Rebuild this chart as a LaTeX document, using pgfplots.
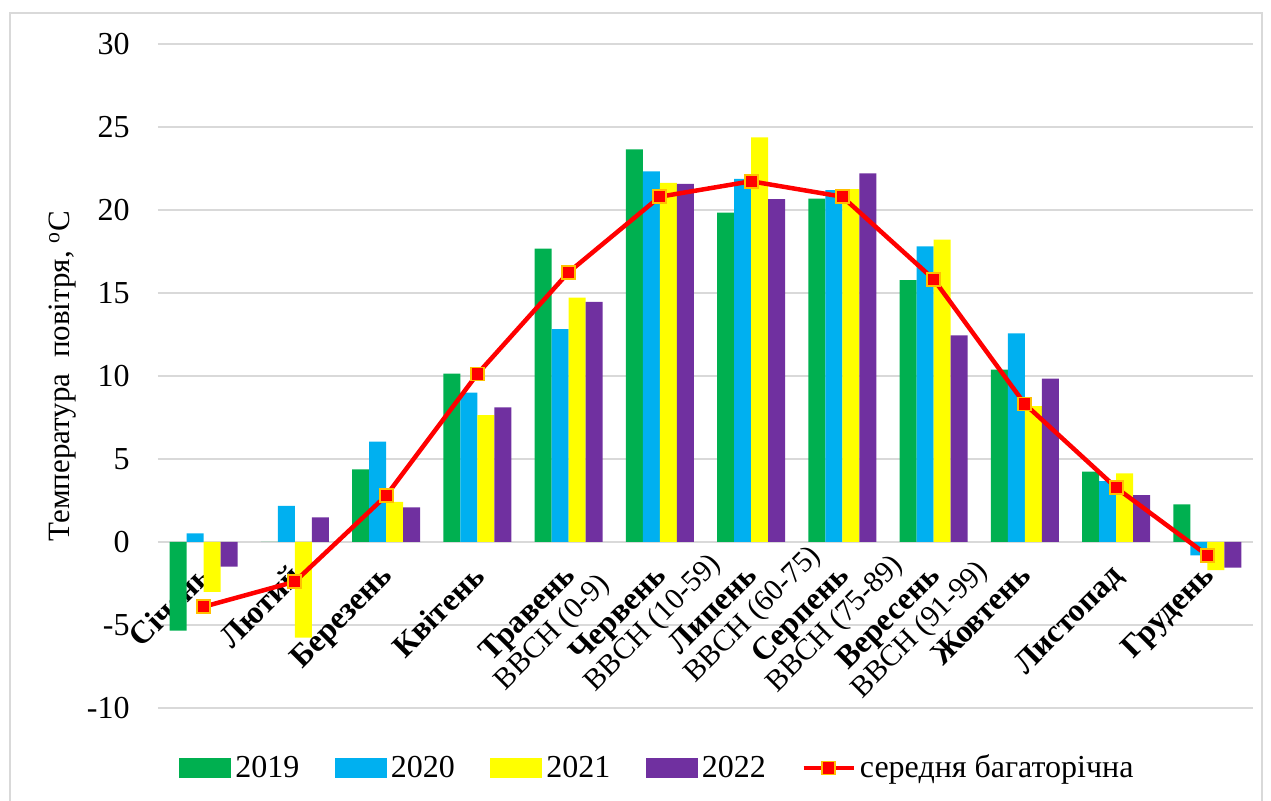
\documentclass[border=0pt]{standalone}
\usepackage{fontspec}
\setmainfont{Liberation Serif}
\usepackage{pgfplots}
\pgfplotsset{compat=1.18}
\definecolor{cg}{HTML}{00B050}
\definecolor{cb}{HTML}{00B0F0}
\definecolor{cy}{HTML}{FFFF00}
\definecolor{cp}{HTML}{7030A0}
\definecolor{cr}{HTML}{FF0000}
\definecolor{co}{HTML}{FFC000}
\definecolor{gridc}{HTML}{D9D9D9}
\newcommand{\bbch}[1]{\rlap{\hspace{-5pt}\fontsize{15pt}{15pt}\selectfont #1}}
\begin{document}
\begin{tikzpicture}
\useasboundingbox (-79pt,-46.5pt) rectangle (556.5pt,354pt);
\draw[gridc, line width=0.75pt] (-74pt,-46.5pt) -- (-74pt,347.5pt) -- (552pt,347.5pt) -- (552pt,-46.5pt);
\begin{axis}[
  at={(0pt,0pt)}, anchor=south west,
  scale only axis, width=547.5pt, height=332pt,
  xmin=-0.5, xmax=11.5, ymin=-10, ymax=30,
  ytick={-10,-5,...,30},
  xtick={0,...,11},
  xticklabels={{\textbf{Січень}},{\textbf{Лютий}},{\textbf{Березень}},{\textbf{Квітень}},
    {\textbf{Травень}\\\bbch{ВВСН (0-9)}},
    {\textbf{Червень}\\\bbch{ВВСН (10-59)}},
    {\textbf{Липень}\\\bbch{ВВСН (60-75)}},
    {\textbf{Серпень}\\\bbch{ВВСН (75-89)}},
    {\textbf{Вересень}\\\bbch{ВВСН (91-99)}},
    {\textbf{Жовтень}},{\textbf{Листопад}},{\textbf{Грудень}}},
  ymajorgrids, grid style={gridc, line width=0.7pt},
  axis line style={draw=none},
  major tick length=0pt,
  tick label style={font=\fontsize{16pt}{15pt}\selectfont},
  /pgf/number format/assume math mode=true,
  yticklabel style={inner sep=0pt, anchor=east, xshift=-14pt},
  xticklabel style={inner sep=0pt, xshift=-3.5pt, yshift=73pt, rotate=45, anchor=north east, align=left},
  ylabel={Температура\ \ повітря, \textsuperscript{o}C},
  ylabel style={at={(axis description cs:-0.087,0.5)}, anchor=center, font=\fontsize{15.5pt}{18pt}\selectfont},
  legend style={at={(axis description cs:0.0192,-0.0904)}, anchor=west, draw=none, fill=none, inner sep=0pt,
    legend columns=5, font=\fontsize{16pt}{19pt}\selectfont,
    /tikz/every even column/.append style={column sep=15.75pt}},
  legend cell align=left,
]
\addplot[ybar, bar width=8.5pt, bar shift=-12.75pt, fill=cg, draw=none,
  legend image code/.code={\fill[cg] (0pt,-5pt) rectangle (26pt,5pt);}]
  coordinates {(0,-5.34) (1,0) (2,4.38) (3,10.15) (4,17.67) (5,23.65) (6,19.84) (7,20.68) (8,15.77) (9,10.38) (10,4.24) (11,2.27)};
\addlegendentry{2019}
\addplot[ybar, bar width=8.5pt, bar shift=-4.25pt, fill=cb, draw=none,
  legend image code/.code={\fill[cb] (0pt,-5pt) rectangle (26pt,5pt);}]
  coordinates {(0,0.52) (1,2.17) (2,6.04) (3,9.0) (4,12.83) (5,22.33) (6,21.87) (7,21.2) (8,17.81) (9,12.57) (10,3.67) (11,-0.8)};
\addlegendentry{2020}
\addplot[ybar, bar width=8.5pt, bar shift=4.25pt, fill=cy, draw=none,
  legend image code/.code={\fill[cy] (0pt,-5pt) rectangle (26pt,5pt);}]
  coordinates {(0,-3.0) (1,-5.76) (2,2.41) (3,7.65) (4,14.72) (5,21.63) (6,24.37) (7,21.25) (8,18.21) (9,8.19) (10,4.14) (11,-1.69)};
\addlegendentry{2021}
\addplot[ybar, bar width=8.5pt, bar shift=12.75pt, fill=cp, draw=none,
  legend image code/.code={\fill[cp] (0pt,-5pt) rectangle (26pt,5pt);}]
  coordinates {(0,-1.49) (1,1.49) (2,2.09) (3,8.11) (4,14.46) (5,21.57) (6,20.66) (7,22.21) (8,12.45) (9,9.84) (10,2.83) (11,-1.55)};
\addlegendentry{2022}
\addplot[cr, line width=2.25pt, mark=square*, mark size=3.25pt, mark options={fill=cr, draw=co, line width=0.9pt},
  legend image code/.code={\draw[cr, line width=2.25pt] (0pt,0pt) -- (25pt,0pt);
    \draw[co, fill=cr, line width=0.9pt] (9.25pt,-3.25pt) rectangle (15.75pt,3.25pt);}]
  coordinates {(0,-3.9) (1,-2.39) (2,2.79) (3,10.12) (4,16.25) (5,20.8) (6,21.73) (7,20.8) (8,15.83) (9,8.31) (10,3.27) (11,-0.8)};
\addlegendentry{середня багаторічна}
\end{axis}
\end{tikzpicture}
\end{document}
